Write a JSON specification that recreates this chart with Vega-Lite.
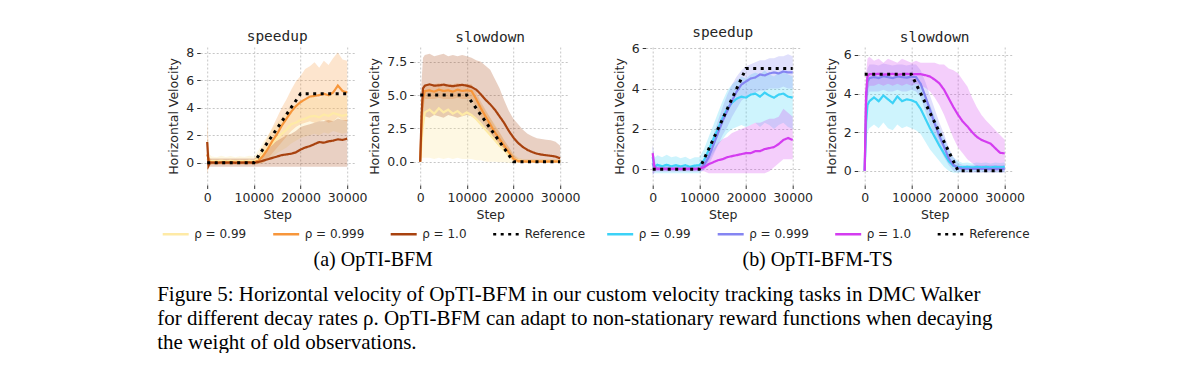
{
"$schema":"https://vega.github.io/schema/vega-lite/v6.json",
"background":"white",
"padding":{"left":157.2,"top":25,"right":0,"bottom":0},
"datasets":{
"d1":[
{"s":"ρ = 0.99","x":0,"m":0.3,"lo":-0.5,"hi":1.8},{"s":"ρ = 0.99","x":500,"m":0.1,"lo":-0.2,"hi":0.6},{"s":"ρ = 0.99","x":1000,"m":0.12,"lo":-0.1,"hi":0.45},{"s":"ρ = 0.99","x":2000,"m":0.1,"lo":-0.12,"hi":0.4},{"s":"ρ = 0.99","x":3000,"m":0.14,"lo":-0.1,"hi":0.5},{"s":"ρ = 0.99","x":4000,"m":0.1,"lo":-0.1,"hi":0.42},{"s":"ρ = 0.99","x":5000,"m":0.13,"lo":-0.1,"hi":0.48},{"s":"ρ = 0.99","x":6000,"m":0.09,"lo":-0.12,"hi":0.4},{"s":"ρ = 0.99","x":7000,"m":0.12,"lo":-0.1,"hi":0.46},{"s":"ρ = 0.99","x":8000,"m":0.1,"lo":-0.1,"hi":0.42},{"s":"ρ = 0.99","x":9000,"m":0.13,"lo":-0.1,"hi":0.5},{"s":"ρ = 0.99","x":10000,"m":0.11,"lo":-0.1,"hi":0.44},{"s":"ρ = 0.99","x":11000,"m":0.3,"lo":-0.1,"hi":0.9},{"s":"ρ = 0.99","x":12000,"m":0.7,"lo":0.0,"hi":1.5},{"s":"ρ = 0.99","x":13000,"m":1.1,"lo":0.2,"hi":2.0},{"s":"ρ = 0.99","x":14000,"m":1.4,"lo":0.4,"hi":2.5},{"s":"ρ = 0.99","x":15000,"m":1.8,"lo":0.7,"hi":2.9},{"s":"ρ = 0.99","x":16000,"m":2.1,"lo":0.9,"hi":3.3},{"s":"ρ = 0.99","x":17000,"m":2.4,"lo":1.1,"hi":3.7},{"s":"ρ = 0.99","x":18000,"m":2.8,"lo":1.4,"hi":4.0},{"s":"ρ = 0.99","x":19000,"m":2.9,"lo":1.6,"hi":4.3},{"s":"ρ = 0.99","x":20000,"m":3.1,"lo":1.8,"hi":4.5},{"s":"ρ = 0.99","x":21000,"m":3.2,"lo":1.9,"hi":4.6},{"s":"ρ = 0.99","x":22000,"m":3.35,"lo":2.0,"hi":4.7},{"s":"ρ = 0.99","x":23000,"m":3.4,"lo":2.1,"hi":4.8},{"s":"ρ = 0.99","x":24000,"m":3.3,"lo":2.0,"hi":4.6},{"s":"ρ = 0.99","x":25000,"m":3.5,"lo":2.2,"hi":4.9},{"s":"ρ = 0.99","x":26000,"m":3.4,"lo":2.1,"hi":4.8},{"s":"ρ = 0.99","x":27000,"m":3.6,"lo":2.3,"hi":5.0},{"s":"ρ = 0.99","x":28000,"m":3.5,"lo":2.2,"hi":4.9},{"s":"ρ = 0.99","x":29000,"m":3.4,"lo":2.1,"hi":4.8},{"s":"ρ = 0.99","x":30000,"m":3.5,"lo":2.2,"hi":4.9},
{"s":"ρ = 0.999","x":0,"m":0.6,"lo":-0.8,"hi":3.0},{"s":"ρ = 0.999","x":500,"m":0.05,"lo":-0.2,"hi":0.35},{"s":"ρ = 0.999","x":1000,"m":0.02,"lo":-0.15,"hi":0.2},{"s":"ρ = 0.999","x":2000,"m":0.03,"lo":-0.15,"hi":0.22},{"s":"ρ = 0.999","x":3000,"m":0.01,"lo":-0.15,"hi":0.2},{"s":"ρ = 0.999","x":4000,"m":0.03,"lo":-0.15,"hi":0.22},{"s":"ρ = 0.999","x":5000,"m":0.02,"lo":-0.15,"hi":0.2},{"s":"ρ = 0.999","x":6000,"m":0.03,"lo":-0.15,"hi":0.22},{"s":"ρ = 0.999","x":7000,"m":0.01,"lo":-0.15,"hi":0.2},{"s":"ρ = 0.999","x":8000,"m":0.03,"lo":-0.15,"hi":0.22},{"s":"ρ = 0.999","x":9000,"m":0.02,"lo":-0.15,"hi":0.2},{"s":"ρ = 0.999","x":10000,"m":0.03,"lo":-0.15,"hi":0.22},{"s":"ρ = 0.999","x":11000,"m":0.15,"lo":-0.1,"hi":0.5},{"s":"ρ = 0.999","x":12000,"m":0.5,"lo":0.0,"hi":1.2},{"s":"ρ = 0.999","x":13000,"m":1.0,"lo":0.3,"hi":1.9},{"s":"ρ = 0.999","x":14000,"m":1.6,"lo":0.7,"hi":2.6},{"s":"ρ = 0.999","x":15000,"m":2.1,"lo":1.1,"hi":3.3},{"s":"ρ = 0.999","x":16000,"m":2.7,"lo":1.5,"hi":4.0},{"s":"ρ = 0.999","x":17000,"m":3.2,"lo":1.9,"hi":4.6},{"s":"ρ = 0.999","x":18000,"m":3.7,"lo":2.3,"hi":5.3},{"s":"ρ = 0.999","x":19000,"m":4.1,"lo":2.6,"hi":5.9},{"s":"ρ = 0.999","x":20000,"m":4.4,"lo":2.8,"hi":6.3},{"s":"ρ = 0.999","x":21000,"m":4.6,"lo":2.9,"hi":6.8},{"s":"ρ = 0.999","x":22000,"m":4.8,"lo":3.0,"hi":7.0},{"s":"ρ = 0.999","x":23000,"m":4.85,"lo":2.9,"hi":7.3},{"s":"ρ = 0.999","x":24000,"m":4.9,"lo":3.0,"hi":6.9},{"s":"ρ = 0.999","x":25000,"m":5.0,"lo":3.1,"hi":7.4},{"s":"ρ = 0.999","x":26000,"m":4.9,"lo":2.9,"hi":7.1},{"s":"ρ = 0.999","x":27000,"m":5.1,"lo":3.0,"hi":7.6},{"s":"ρ = 0.999","x":28000,"m":5.6,"lo":3.3,"hi":8.0},{"s":"ρ = 0.999","x":29000,"m":5.2,"lo":3.1,"hi":7.5},{"s":"ρ = 0.999","x":30000,"m":5.1,"lo":3.0,"hi":7.4},
{"s":"ρ = 1.0","x":0,"m":1.5,"lo":-0.5,"hi":1.7},{"s":"ρ = 1.0","x":300,"m":-0.2,"lo":-0.4,"hi":0.4},{"s":"ρ = 1.0","x":600,"m":0.0,"lo":-0.3,"hi":0.3},{"s":"ρ = 1.0","x":1000,"m":0.01,"lo":-0.3,"hi":0.3},{"s":"ρ = 1.0","x":2000,"m":-0.02,"lo":-0.3,"hi":0.3},{"s":"ρ = 1.0","x":3000,"m":0.02,"lo":-0.3,"hi":0.3},{"s":"ρ = 1.0","x":4000,"m":0.0,"lo":-0.3,"hi":0.3},{"s":"ρ = 1.0","x":5000,"m":0.02,"lo":-0.3,"hi":0.3},{"s":"ρ = 1.0","x":6000,"m":-0.01,"lo":-0.3,"hi":0.3},{"s":"ρ = 1.0","x":7000,"m":0.01,"lo":-0.3,"hi":0.3},{"s":"ρ = 1.0","x":8000,"m":0.0,"lo":-0.3,"hi":0.3},{"s":"ρ = 1.0","x":9000,"m":0.02,"lo":-0.3,"hi":0.3},{"s":"ρ = 1.0","x":10000,"m":0.0,"lo":-0.3,"hi":0.3},{"s":"ρ = 1.0","x":11000,"m":0.05,"lo":-0.3,"hi":0.5},{"s":"ρ = 1.0","x":12000,"m":0.15,"lo":-0.3,"hi":0.8},{"s":"ρ = 1.0","x":13000,"m":0.25,"lo":-0.3,"hi":1.1},{"s":"ρ = 1.0","x":14000,"m":0.35,"lo":-0.3,"hi":1.4},{"s":"ρ = 1.0","x":15000,"m":0.45,"lo":-0.3,"hi":1.6},{"s":"ρ = 1.0","x":16000,"m":0.55,"lo":-0.3,"hi":1.8},{"s":"ρ = 1.0","x":17000,"m":0.6,"lo":-0.3,"hi":2.0},{"s":"ρ = 1.0","x":18000,"m":0.65,"lo":-0.3,"hi":2.1},{"s":"ρ = 1.0","x":19000,"m":0.75,"lo":-0.3,"hi":2.3},{"s":"ρ = 1.0","x":20000,"m":0.95,"lo":-0.3,"hi":2.6},{"s":"ρ = 1.0","x":21000,"m":1.1,"lo":-0.3,"hi":2.7},{"s":"ρ = 1.0","x":22000,"m":1.2,"lo":-0.3,"hi":2.8},{"s":"ρ = 1.0","x":23000,"m":1.35,"lo":-0.3,"hi":2.9},{"s":"ρ = 1.0","x":24000,"m":1.5,"lo":-0.3,"hi":3.0},{"s":"ρ = 1.0","x":25000,"m":1.45,"lo":-0.3,"hi":3.0},{"s":"ρ = 1.0","x":26000,"m":1.55,"lo":-0.3,"hi":3.1},{"s":"ρ = 1.0","x":27000,"m":1.6,"lo":-0.3,"hi":3.0},{"s":"ρ = 1.0","x":28000,"m":1.7,"lo":-0.3,"hi":3.2},{"s":"ρ = 1.0","x":29000,"m":1.65,"lo":-0.3,"hi":3.1},{"s":"ρ = 1.0","x":30000,"m":1.75,"lo":-0.3,"hi":3.1},
{"s":"Reference","x":0,"m":0},{"s":"Reference","x":10000,"m":0},{"s":"Reference","x":20000,"m":5},{"s":"Reference","x":30000,"m":5}
],
"d2":[
{"s":"ρ = 0.99","x":0,"m":0,"lo":0,"hi":0},{"s":"ρ = 0.99","x":500,"m":2.5,"lo":0.3,"hi":4.5},{"s":"ρ = 0.99","x":1000,"m":3.7,"lo":0.3,"hi":5.3},{"s":"ρ = 0.99","x":2000,"m":3.9,"lo":0.3,"hi":5.5},{"s":"ρ = 0.99","x":3000,"m":3.6,"lo":0.2,"hi":5.2},{"s":"ρ = 0.99","x":4000,"m":4.0,"lo":0.3,"hi":5.6},{"s":"ρ = 0.99","x":5000,"m":3.7,"lo":0.2,"hi":5.3},{"s":"ρ = 0.99","x":6000,"m":3.9,"lo":0.3,"hi":5.5},{"s":"ρ = 0.99","x":7000,"m":3.6,"lo":0.2,"hi":5.2},{"s":"ρ = 0.99","x":8000,"m":3.8,"lo":0.3,"hi":5.4},{"s":"ρ = 0.99","x":9000,"m":3.5,"lo":0.2,"hi":5.1},{"s":"ρ = 0.99","x":10000,"m":3.7,"lo":0.2,"hi":5.3},{"s":"ρ = 0.99","x":11000,"m":3.5,"lo":0.2,"hi":5.1},{"s":"ρ = 0.99","x":12000,"m":3.2,"lo":0.1,"hi":4.8},{"s":"ρ = 0.99","x":13000,"m":2.8,"lo":0.1,"hi":4.3},{"s":"ρ = 0.99","x":14000,"m":2.4,"lo":0.0,"hi":3.8},{"s":"ρ = 0.99","x":15000,"m":2.0,"lo":0.0,"hi":3.3},{"s":"ρ = 0.99","x":16000,"m":1.6,"lo":0.0,"hi":2.8},{"s":"ρ = 0.99","x":17000,"m":1.2,"lo":-0.05,"hi":2.2},{"s":"ρ = 0.99","x":18000,"m":0.85,"lo":-0.05,"hi":1.6},{"s":"ρ = 0.99","x":19000,"m":0.5,"lo":-0.1,"hi":1.1},{"s":"ρ = 0.99","x":20000,"m":0.2,"lo":-0.1,"hi":0.6},{"s":"ρ = 0.99","x":21000,"m":0.1,"lo":-0.1,"hi":0.3},{"s":"ρ = 0.99","x":22000,"m":0.05,"lo":-0.1,"hi":0.2},{"s":"ρ = 0.99","x":24000,"m":0.04,"lo":-0.1,"hi":0.2},{"s":"ρ = 0.99","x":26000,"m":0.05,"lo":-0.1,"hi":0.2},{"s":"ρ = 0.99","x":28000,"m":0.04,"lo":-0.1,"hi":0.2},{"s":"ρ = 0.99","x":30000,"m":0.05,"lo":-0.1,"hi":0.2},
{"s":"ρ = 0.999","x":0,"m":0,"lo":0,"hi":0},{"s":"ρ = 0.999","x":500,"m":4.6,"lo":3.5,"hi":5.5},{"s":"ρ = 0.999","x":1000,"m":5.3,"lo":4.7,"hi":5.8},{"s":"ρ = 0.999","x":2000,"m":5.35,"lo":4.7,"hi":5.85},{"s":"ρ = 0.999","x":3000,"m":5.25,"lo":4.7,"hi":5.8},{"s":"ρ = 0.999","x":4000,"m":5.4,"lo":4.8,"hi":5.9},{"s":"ρ = 0.999","x":5000,"m":5.3,"lo":4.7,"hi":5.8},{"s":"ρ = 0.999","x":6000,"m":5.35,"lo":4.7,"hi":5.85},{"s":"ρ = 0.999","x":7000,"m":5.25,"lo":4.7,"hi":5.8},{"s":"ρ = 0.999","x":8000,"m":5.4,"lo":4.8,"hi":5.9},{"s":"ρ = 0.999","x":9000,"m":5.3,"lo":4.7,"hi":5.8},{"s":"ρ = 0.999","x":10000,"m":5.35,"lo":4.7,"hi":5.85},{"s":"ρ = 0.999","x":11000,"m":5.3,"lo":4.7,"hi":5.8},{"s":"ρ = 0.999","x":12000,"m":4.7,"lo":4.1,"hi":5.2},{"s":"ρ = 0.999","x":13000,"m":4.0,"lo":3.4,"hi":4.5},{"s":"ρ = 0.999","x":14000,"m":3.4,"lo":2.8,"hi":3.9},{"s":"ρ = 0.999","x":15000,"m":2.8,"lo":2.2,"hi":3.3},{"s":"ρ = 0.999","x":16000,"m":2.2,"lo":1.7,"hi":2.7},{"s":"ρ = 0.999","x":17000,"m":1.7,"lo":1.2,"hi":2.2},{"s":"ρ = 0.999","x":18000,"m":1.2,"lo":0.8,"hi":1.6},{"s":"ρ = 0.999","x":19000,"m":0.7,"lo":0.3,"hi":1.1},{"s":"ρ = 0.999","x":20000,"m":0.2,"lo":-0.05,"hi":0.5},{"s":"ρ = 0.999","x":21000,"m":0.05,"lo":-0.1,"hi":0.2},{"s":"ρ = 0.999","x":22000,"m":0.02,"lo":-0.1,"hi":0.15},{"s":"ρ = 0.999","x":24000,"m":0.03,"lo":-0.1,"hi":0.15},{"s":"ρ = 0.999","x":26000,"m":0.02,"lo":-0.1,"hi":0.15},{"s":"ρ = 0.999","x":28000,"m":0.03,"lo":-0.1,"hi":0.15},{"s":"ρ = 0.999","x":30000,"m":0.02,"lo":-0.1,"hi":0.15},
{"s":"ρ = 1.0","x":0,"m":0,"lo":0,"hi":0},{"s":"ρ = 1.0","x":300,"m":3.5,"lo":1.5,"hi":6.0},{"s":"ρ = 1.0","x":600,"m":5.5,"lo":3.3,"hi":7.8},{"s":"ρ = 1.0","x":1000,"m":5.7,"lo":3.4,"hi":8.0},{"s":"ρ = 1.0","x":2000,"m":5.8,"lo":3.3,"hi":8.1},{"s":"ρ = 1.0","x":3000,"m":5.7,"lo":3.5,"hi":7.9},{"s":"ρ = 1.0","x":4000,"m":5.72,"lo":3.4,"hi":8.0},{"s":"ρ = 1.0","x":5000,"m":5.78,"lo":3.3,"hi":8.1},{"s":"ρ = 1.0","x":6000,"m":5.7,"lo":3.5,"hi":7.9},{"s":"ρ = 1.0","x":7000,"m":5.66,"lo":3.4,"hi":8.0},{"s":"ρ = 1.0","x":8000,"m":5.72,"lo":3.3,"hi":7.9},{"s":"ρ = 1.0","x":9000,"m":5.76,"lo":3.4,"hi":8.0},{"s":"ρ = 1.0","x":10000,"m":5.7,"lo":3.5,"hi":7.9},{"s":"ρ = 1.0","x":11000,"m":5.6,"lo":3.4,"hi":7.8},{"s":"ρ = 1.0","x":12000,"m":5.4,"lo":3.2,"hi":7.6},{"s":"ρ = 1.0","x":13000,"m":5.05,"lo":2.9,"hi":7.5},{"s":"ρ = 1.0","x":14000,"m":4.65,"lo":2.5,"hi":7.2},{"s":"ρ = 1.0","x":15000,"m":4.3,"lo":2.1,"hi":6.9},{"s":"ρ = 1.0","x":16000,"m":3.9,"lo":1.7,"hi":6.2},{"s":"ρ = 1.0","x":17000,"m":3.4,"lo":1.3,"hi":5.5},{"s":"ρ = 1.0","x":18000,"m":2.9,"lo":0.9,"hi":4.6},{"s":"ρ = 1.0","x":19000,"m":2.3,"lo":0.5,"hi":3.8},{"s":"ρ = 1.0","x":20000,"m":1.8,"lo":0.2,"hi":3.2},{"s":"ρ = 1.0","x":21000,"m":1.4,"lo":0.0,"hi":2.8},{"s":"ρ = 1.0","x":22000,"m":1.1,"lo":-0.1,"hi":2.4},{"s":"ρ = 1.0","x":23000,"m":0.88,"lo":-0.1,"hi":2.1},{"s":"ρ = 1.0","x":24000,"m":0.72,"lo":-0.1,"hi":1.9},{"s":"ρ = 1.0","x":25000,"m":0.6,"lo":-0.1,"hi":1.75},{"s":"ρ = 1.0","x":26000,"m":0.53,"lo":-0.1,"hi":1.7},{"s":"ρ = 1.0","x":27000,"m":0.48,"lo":-0.1,"hi":1.65},{"s":"ρ = 1.0","x":28000,"m":0.44,"lo":-0.1,"hi":1.6},{"s":"ρ = 1.0","x":29000,"m":0.38,"lo":-0.1,"hi":1.5},{"s":"ρ = 1.0","x":30000,"m":0.25,"lo":-0.1,"hi":1.2},
{"s":"Reference","x":0,"m":5},{"s":"Reference","x":10000,"m":5},{"s":"Reference","x":20000,"m":0},{"s":"Reference","x":30000,"m":0}
],
"d3":[
{"s":"ρ = 0.99","x":0,"m":0.6,"lo":-0.3,"hi":1.2},{"s":"ρ = 0.99","x":300,"m":0.2,"lo":-0.2,"hi":0.7},{"s":"ρ = 0.99","x":600,"m":0.15,"lo":-0.2,"hi":0.6},{"s":"ρ = 0.99","x":1000,"m":0.22,"lo":-0.2,"hi":0.7},{"s":"ρ = 0.99","x":2000,"m":0.15,"lo":-0.2,"hi":0.6},{"s":"ρ = 0.99","x":3000,"m":0.22,"lo":-0.2,"hi":0.72},{"s":"ρ = 0.99","x":4000,"m":0.15,"lo":-0.2,"hi":0.6},{"s":"ρ = 0.99","x":5000,"m":0.2,"lo":-0.2,"hi":0.65},{"s":"ρ = 0.99","x":6000,"m":0.14,"lo":-0.2,"hi":0.55},{"s":"ρ = 0.99","x":7000,"m":0.2,"lo":-0.2,"hi":0.62},{"s":"ρ = 0.99","x":8000,"m":0.12,"lo":-0.2,"hi":0.5},{"s":"ρ = 0.99","x":9000,"m":0.18,"lo":-0.2,"hi":0.6},{"s":"ρ = 0.99","x":10000,"m":0.2,"lo":-0.2,"hi":0.6},{"s":"ρ = 0.99","x":11000,"m":0.45,"lo":0.0,"hi":1.0},{"s":"ρ = 0.99","x":12000,"m":0.95,"lo":0.4,"hi":1.6},{"s":"ρ = 0.99","x":13000,"m":1.5,"lo":0.8,"hi":2.2},{"s":"ρ = 0.99","x":14000,"m":2.0,"lo":1.2,"hi":2.8},{"s":"ρ = 0.99","x":15000,"m":2.55,"lo":1.5,"hi":3.4},{"s":"ρ = 0.99","x":16000,"m":3.0,"lo":1.8,"hi":3.9},{"s":"ρ = 0.99","x":17000,"m":3.3,"lo":2.0,"hi":4.2},{"s":"ρ = 0.99","x":18000,"m":3.5,"lo":2.1,"hi":4.4},{"s":"ρ = 0.99","x":19000,"m":3.6,"lo":2.2,"hi":4.6},{"s":"ρ = 0.99","x":20000,"m":3.55,"lo":2.1,"hi":4.5},{"s":"ρ = 0.99","x":21000,"m":3.7,"lo":2.2,"hi":4.7},{"s":"ρ = 0.99","x":22000,"m":3.75,"lo":2.3,"hi":4.8},{"s":"ρ = 0.99","x":23000,"m":3.6,"lo":2.1,"hi":4.7},{"s":"ρ = 0.99","x":24000,"m":3.8,"lo":2.3,"hi":4.9},{"s":"ρ = 0.99","x":25000,"m":3.65,"lo":2.2,"hi":4.7},{"s":"ρ = 0.99","x":26000,"m":3.55,"lo":2.0,"hi":4.6},{"s":"ρ = 0.99","x":27000,"m":3.7,"lo":2.2,"hi":4.8},{"s":"ρ = 0.99","x":28000,"m":3.75,"lo":2.3,"hi":4.9},{"s":"ρ = 0.99","x":29000,"m":3.6,"lo":2.1,"hi":4.7},{"s":"ρ = 0.99","x":30000,"m":3.55,"lo":2.0,"hi":4.6},
{"s":"ρ = 0.999","x":0,"m":0.3,"lo":-0.2,"hi":0.8},{"s":"ρ = 0.999","x":300,"m":0.05,"lo":-0.1,"hi":0.25},{"s":"ρ = 0.999","x":600,"m":0.03,"lo":-0.1,"hi":0.15},{"s":"ρ = 0.999","x":1000,"m":0.04,"lo":-0.1,"hi":0.16},{"s":"ρ = 0.999","x":2000,"m":0.02,"lo":-0.1,"hi":0.14},{"s":"ρ = 0.999","x":3000,"m":0.04,"lo":-0.1,"hi":0.16},{"s":"ρ = 0.999","x":4000,"m":0.03,"lo":-0.1,"hi":0.15},{"s":"ρ = 0.999","x":5000,"m":0.02,"lo":-0.1,"hi":0.14},{"s":"ρ = 0.999","x":6000,"m":0.04,"lo":-0.1,"hi":0.16},{"s":"ρ = 0.999","x":7000,"m":0.03,"lo":-0.1,"hi":0.15},{"s":"ρ = 0.999","x":8000,"m":0.02,"lo":-0.1,"hi":0.14},{"s":"ρ = 0.999","x":9000,"m":0.04,"lo":-0.1,"hi":0.16},{"s":"ρ = 0.999","x":10000,"m":0.03,"lo":-0.1,"hi":0.15},{"s":"ρ = 0.999","x":11000,"m":0.2,"lo":-0.05,"hi":0.5},{"s":"ρ = 0.999","x":12000,"m":0.6,"lo":0.2,"hi":1.0},{"s":"ρ = 0.999","x":13000,"m":1.2,"lo":0.7,"hi":1.7},{"s":"ρ = 0.999","x":14000,"m":1.8,"lo":1.2,"hi":2.4},{"s":"ρ = 0.999","x":15000,"m":2.4,"lo":1.7,"hi":3.1},{"s":"ρ = 0.999","x":16000,"m":2.9,"lo":2.1,"hi":3.7},{"s":"ρ = 0.999","x":17000,"m":3.4,"lo":2.6,"hi":4.2},{"s":"ρ = 0.999","x":18000,"m":3.85,"lo":3.0,"hi":4.6},{"s":"ρ = 0.999","x":19000,"m":4.2,"lo":3.4,"hi":4.9},{"s":"ρ = 0.999","x":20000,"m":4.35,"lo":3.6,"hi":5.1},{"s":"ρ = 0.999","x":21000,"m":4.5,"lo":3.7,"hi":5.2},{"s":"ρ = 0.999","x":22000,"m":4.55,"lo":3.8,"hi":5.3},{"s":"ρ = 0.999","x":23000,"m":4.7,"lo":3.9,"hi":5.4},{"s":"ρ = 0.999","x":24000,"m":4.65,"lo":3.9,"hi":5.4},{"s":"ρ = 0.999","x":25000,"m":4.75,"lo":4.0,"hi":5.5},{"s":"ρ = 0.999","x":26000,"m":4.8,"lo":4.0,"hi":5.5},{"s":"ρ = 0.999","x":27000,"m":4.75,"lo":4.0,"hi":5.6},{"s":"ρ = 0.999","x":28000,"m":4.85,"lo":4.1,"hi":5.6},{"s":"ρ = 0.999","x":29000,"m":4.8,"lo":4.0,"hi":5.7},{"s":"ρ = 0.999","x":30000,"m":4.8,"lo":4.0,"hi":5.6},
{"s":"ρ = 1.0","x":0,"m":0.8,"lo":-0.3,"hi":1.2},{"s":"ρ = 1.0","x":300,"m":0.2,"lo":-0.2,"hi":0.6},{"s":"ρ = 1.0","x":600,"m":0.05,"lo":-0.1,"hi":0.3},{"s":"ρ = 1.0","x":1000,"m":0.02,"lo":-0.1,"hi":0.15},{"s":"ρ = 1.0","x":2000,"m":0.03,"lo":-0.1,"hi":0.16},{"s":"ρ = 1.0","x":3000,"m":0.01,"lo":-0.1,"hi":0.14},{"s":"ρ = 1.0","x":4000,"m":0.02,"lo":-0.1,"hi":0.15},{"s":"ρ = 1.0","x":5000,"m":0.03,"lo":-0.1,"hi":0.16},{"s":"ρ = 1.0","x":6000,"m":0.01,"lo":-0.1,"hi":0.14},{"s":"ρ = 1.0","x":7000,"m":0.02,"lo":-0.1,"hi":0.15},{"s":"ρ = 1.0","x":8000,"m":0.03,"lo":-0.1,"hi":0.16},{"s":"ρ = 1.0","x":9000,"m":0.01,"lo":-0.1,"hi":0.14},{"s":"ρ = 1.0","x":10000,"m":0.02,"lo":-0.1,"hi":0.15},{"s":"ρ = 1.0","x":11000,"m":0.1,"lo":-0.1,"hi":0.5},{"s":"ρ = 1.0","x":12000,"m":0.25,"lo":-0.2,"hi":0.8},{"s":"ρ = 1.0","x":13000,"m":0.35,"lo":-0.2,"hi":1.0},{"s":"ρ = 1.0","x":14000,"m":0.45,"lo":-0.2,"hi":1.3},{"s":"ρ = 1.0","x":15000,"m":0.5,"lo":-0.2,"hi":1.5},{"s":"ρ = 1.0","x":16000,"m":0.6,"lo":-0.2,"hi":1.6},{"s":"ρ = 1.0","x":17000,"m":0.65,"lo":-0.2,"hi":1.8},{"s":"ρ = 1.0","x":18000,"m":0.7,"lo":-0.2,"hi":1.9},{"s":"ρ = 1.0","x":19000,"m":0.75,"lo":-0.2,"hi":2.0},{"s":"ρ = 1.0","x":20000,"m":0.8,"lo":-0.2,"hi":2.1},{"s":"ρ = 1.0","x":21000,"m":0.8,"lo":-0.2,"hi":2.2},{"s":"ρ = 1.0","x":22000,"m":0.9,"lo":-0.2,"hi":2.3},{"s":"ρ = 1.0","x":23000,"m":0.9,"lo":-0.2,"hi":2.3},{"s":"ρ = 1.0","x":24000,"m":1.0,"lo":-0.2,"hi":2.4},{"s":"ρ = 1.0","x":25000,"m":1.05,"lo":-0.1,"hi":2.5},{"s":"ρ = 1.0","x":26000,"m":1.1,"lo":0.1,"hi":2.5},{"s":"ρ = 1.0","x":27000,"m":1.25,"lo":0.3,"hi":2.6},{"s":"ρ = 1.0","x":28000,"m":1.45,"lo":0.5,"hi":3.0},{"s":"ρ = 1.0","x":29000,"m":1.55,"lo":0.5,"hi":2.8},{"s":"ρ = 1.0","x":30000,"m":1.45,"lo":0.5,"hi":2.6},
{"s":"Reference","x":0,"m":0},{"s":"Reference","x":10000,"m":0},{"s":"Reference","x":20000,"m":5},{"s":"Reference","x":30000,"m":5}
],
"d4":[
{"s":"ρ = 0.99","x":0,"m":0,"lo":0,"hi":0},{"s":"ρ = 0.99","x":300,"m":2.5,"lo":1.2,"hi":3.5},{"s":"ρ = 0.99","x":600,"m":3.4,"lo":2.0,"hi":4.5},{"s":"ρ = 0.99","x":1000,"m":3.6,"lo":2.2,"hi":4.8},{"s":"ρ = 0.99","x":2000,"m":3.8,"lo":2.4,"hi":5.0},{"s":"ρ = 0.99","x":3000,"m":3.6,"lo":2.2,"hi":4.9},{"s":"ρ = 0.99","x":4000,"m":3.9,"lo":2.5,"hi":5.1},{"s":"ρ = 0.99","x":5000,"m":3.7,"lo":2.2,"hi":4.9},{"s":"ρ = 0.99","x":6000,"m":3.5,"lo":2.1,"hi":4.8},{"s":"ρ = 0.99","x":7000,"m":3.85,"lo":2.4,"hi":5.0},{"s":"ρ = 0.99","x":8000,"m":3.6,"lo":2.2,"hi":4.9},{"s":"ρ = 0.99","x":9000,"m":3.7,"lo":2.3,"hi":5.0},{"s":"ρ = 0.99","x":10000,"m":3.65,"lo":2.2,"hi":4.8},{"s":"ρ = 0.99","x":11000,"m":3.55,"lo":2.1,"hi":4.7},{"s":"ρ = 0.99","x":12000,"m":3.2,"lo":1.9,"hi":4.4},{"s":"ρ = 0.99","x":13000,"m":2.7,"lo":1.5,"hi":3.9},{"s":"ρ = 0.99","x":14000,"m":2.2,"lo":1.1,"hi":3.4},{"s":"ρ = 0.99","x":15000,"m":1.75,"lo":0.8,"hi":2.8},{"s":"ρ = 0.99","x":16000,"m":1.3,"lo":0.5,"hi":2.2},{"s":"ρ = 0.99","x":17000,"m":0.9,"lo":0.2,"hi":1.7},{"s":"ρ = 0.99","x":18000,"m":0.5,"lo":0.0,"hi":1.1},{"s":"ρ = 0.99","x":19000,"m":0.25,"lo":-0.1,"hi":0.7},{"s":"ρ = 0.99","x":20000,"m":0.2,"lo":-0.1,"hi":0.5},{"s":"ρ = 0.99","x":21000,"m":0.18,"lo":-0.05,"hi":0.4},{"s":"ρ = 0.99","x":22000,"m":0.2,"lo":-0.05,"hi":0.42},{"s":"ρ = 0.99","x":23000,"m":0.17,"lo":-0.05,"hi":0.38},{"s":"ρ = 0.99","x":24000,"m":0.2,"lo":-0.05,"hi":0.42},{"s":"ρ = 0.99","x":25000,"m":0.18,"lo":-0.05,"hi":0.4},{"s":"ρ = 0.99","x":26000,"m":0.2,"lo":-0.05,"hi":0.42},{"s":"ρ = 0.99","x":27000,"m":0.17,"lo":-0.05,"hi":0.38},{"s":"ρ = 0.99","x":28000,"m":0.2,"lo":-0.05,"hi":0.42},{"s":"ρ = 0.99","x":29000,"m":0.18,"lo":-0.05,"hi":0.4},{"s":"ρ = 0.99","x":30000,"m":0.2,"lo":-0.05,"hi":0.42},
{"s":"ρ = 0.999","x":0,"m":0,"lo":0,"hi":0},{"s":"ρ = 0.999","x":300,"m":3.5,"lo":2.5,"hi":4.5},{"s":"ρ = 0.999","x":600,"m":4.6,"lo":3.8,"hi":5.3},{"s":"ρ = 0.999","x":1000,"m":4.8,"lo":4.1,"hi":5.5},{"s":"ρ = 0.999","x":2000,"m":4.85,"lo":4.1,"hi":5.5},{"s":"ρ = 0.999","x":3000,"m":4.8,"lo":4.1,"hi":5.45},{"s":"ρ = 0.999","x":4000,"m":4.9,"lo":4.2,"hi":5.55},{"s":"ρ = 0.999","x":5000,"m":4.85,"lo":4.1,"hi":5.5},{"s":"ρ = 0.999","x":6000,"m":4.8,"lo":4.1,"hi":5.45},{"s":"ρ = 0.999","x":7000,"m":4.88,"lo":4.2,"hi":5.5},{"s":"ρ = 0.999","x":8000,"m":4.85,"lo":4.1,"hi":5.5},{"s":"ρ = 0.999","x":9000,"m":4.82,"lo":4.1,"hi":5.45},{"s":"ρ = 0.999","x":10000,"m":4.87,"lo":4.2,"hi":5.5},{"s":"ρ = 0.999","x":11000,"m":4.85,"lo":4.1,"hi":5.5},{"s":"ρ = 0.999","x":12000,"m":4.5,"lo":3.8,"hi":5.2},{"s":"ρ = 0.999","x":13000,"m":3.85,"lo":3.1,"hi":4.6},{"s":"ρ = 0.999","x":14000,"m":3.15,"lo":2.4,"hi":3.9},{"s":"ρ = 0.999","x":15000,"m":2.45,"lo":1.8,"hi":3.2},{"s":"ρ = 0.999","x":16000,"m":1.8,"lo":1.2,"hi":2.5},{"s":"ρ = 0.999","x":17000,"m":1.25,"lo":0.7,"hi":1.9},{"s":"ρ = 0.999","x":18000,"m":0.65,"lo":0.3,"hi":1.2},{"s":"ρ = 0.999","x":19000,"m":0.3,"lo":0.0,"hi":0.7},{"s":"ρ = 0.999","x":20000,"m":0.15,"lo":-0.05,"hi":0.4},{"s":"ρ = 0.999","x":21000,"m":0.1,"lo":-0.1,"hi":0.3},{"s":"ρ = 0.999","x":22000,"m":0.1,"lo":-0.1,"hi":0.3},{"s":"ρ = 0.999","x":24000,"m":0.1,"lo":-0.1,"hi":0.3},{"s":"ρ = 0.999","x":26000,"m":0.1,"lo":-0.1,"hi":0.3},{"s":"ρ = 0.999","x":28000,"m":0.1,"lo":-0.1,"hi":0.3},{"s":"ρ = 0.999","x":30000,"m":0.1,"lo":-0.1,"hi":0.3},
{"s":"ρ = 1.0","x":0,"m":0,"lo":0,"hi":0},{"s":"ρ = 1.0","x":300,"m":4.0,"lo":3.0,"hi":5.0},{"s":"ρ = 1.0","x":600,"m":4.9,"lo":4.2,"hi":5.8},{"s":"ρ = 1.0","x":1000,"m":5.0,"lo":4.4,"hi":5.9},{"s":"ρ = 1.0","x":2000,"m":5.0,"lo":4.4,"hi":5.7},{"s":"ρ = 1.0","x":3000,"m":5.02,"lo":4.5,"hi":5.8},{"s":"ρ = 1.0","x":4000,"m":4.98,"lo":4.4,"hi":5.6},{"s":"ρ = 1.0","x":5000,"m":5.0,"lo":4.5,"hi":5.8},{"s":"ρ = 1.0","x":6000,"m":5.02,"lo":4.4,"hi":5.7},{"s":"ρ = 1.0","x":7000,"m":4.98,"lo":4.5,"hi":5.6},{"s":"ρ = 1.0","x":8000,"m":5.0,"lo":4.4,"hi":5.8},{"s":"ρ = 1.0","x":9000,"m":5.02,"lo":4.5,"hi":5.7},{"s":"ρ = 1.0","x":10000,"m":5.0,"lo":4.4,"hi":5.6},{"s":"ρ = 1.0","x":11000,"m":5.0,"lo":4.5,"hi":5.7},{"s":"ρ = 1.0","x":12000,"m":5.0,"lo":4.4,"hi":5.6},{"s":"ρ = 1.0","x":13000,"m":4.95,"lo":4.3,"hi":5.6},{"s":"ρ = 1.0","x":14000,"m":4.88,"lo":4.1,"hi":5.6},{"s":"ρ = 1.0","x":15000,"m":4.72,"lo":3.8,"hi":5.6},{"s":"ρ = 1.0","x":16000,"m":4.53,"lo":3.4,"hi":5.5},{"s":"ρ = 1.0","x":17000,"m":4.2,"lo":2.9,"hi":5.5},{"s":"ρ = 1.0","x":18000,"m":3.75,"lo":2.3,"hi":5.3},{"s":"ρ = 1.0","x":19000,"m":3.3,"lo":1.7,"hi":5.2},{"s":"ρ = 1.0","x":20000,"m":2.9,"lo":1.2,"hi":5.05},{"s":"ρ = 1.0","x":21000,"m":2.55,"lo":0.9,"hi":4.7},{"s":"ρ = 1.0","x":22000,"m":2.3,"lo":0.6,"hi":4.36},{"s":"ρ = 1.0","x":23000,"m":2.0,"lo":0.4,"hi":3.8},{"s":"ρ = 1.0","x":24000,"m":1.76,"lo":0.2,"hi":3.3},{"s":"ρ = 1.0","x":25000,"m":1.6,"lo":0.1,"hi":2.9},{"s":"ρ = 1.0","x":26000,"m":1.5,"lo":0.0,"hi":2.6},{"s":"ρ = 1.0","x":27000,"m":1.4,"lo":0.0,"hi":2.35},{"s":"ρ = 1.0","x":28000,"m":1.16,"lo":0.0,"hi":2.1},{"s":"ρ = 1.0","x":29000,"m":0.93,"lo":0.0,"hi":1.85},{"s":"ρ = 1.0","x":30000,"m":0.9,"lo":0.0,"hi":1.6},
{"s":"Reference","x":0,"m":5},{"s":"Reference","x":10000,"m":5},{"s":"Reference","x":20000,"m":0},{"s":"Reference","x":30000,"m":0}
]
},
"title":{"text":["Figure 5: Horizontal velocity of OpTI-BFM in our custom velocity tracking tasks in DMC Walker","for different decay rates ρ. OpTI-BFM can adapt to non-stationary reward functions when decaying","the weight of old observations."],"orient":"bottom","anchor":"start","frame":"bounds","font":"Liberation Serif","fontSize":21,"fontWeight":"normal","color":"black","lineHeight":24,"offset":13.5,"dx":-4},
"spacing":20.5,
"resolve":{"scale":{"color":"independent","fill":"independent","strokeDash":"independent"}},
"hconcat":[
{"spacing":1,
 "title":{"text":"(a) OpTI-BFM","orient":"bottom","anchor":"middle","frame":"bounds","font":"Liberation Serif","fontSize":20,"fontWeight":"normal","color":"black","offset":10},
 "hconcat":[
 {"width":154,"height":138,"title":{"text":"speedup"},"data":{"name":"d1"},
  "encoding":{"x":{"field":"x","type":"quantitative","scale":{"domain":[-1500,31500],"nice":false,"zero":false},"axis":{"values":[0,10000,20000,30000],"format":"d","title":"Step"}}},
  "layer":[
   {"transform":[{"filter":"datum.s != 'Reference'"}],"mark":{"type":"area","opacity":0.25},
    "encoding":{"y":{"field":"lo","type":"quantitative","scale":{"domain":[-1.62,8.4],"nice":false,"zero":false},"axis":{"values":[0,2,4,6,8],"title":"Horizontal Velocity"}},"y2":{"field":"hi"},
     "fill":{"field":"s","type":"nominal","scale":{"domain":["ρ = 0.99","ρ = 0.999","ρ = 1.0"],"range":["#fde28f","#f7963b","#a8420f"]},"legend":null}}},
   {"transform":[{"filter":"datum.s != 'Reference'"}],"mark":{"type":"line","strokeWidth":2.2},
    "encoding":{"y":{"field":"m","type":"quantitative","axis":{"values":[0,2,4,6,8],"title":"Horizontal Velocity"}},
     "color":{"field":"s","type":"nominal","scale":{"domain":["ρ = 0.99","ρ = 0.999","ρ = 1.0","Reference"],"range":["#feeaa6","#f7963b","#a8420f","#000000"]},"legend":{"orient":"none","legendX":-39,"legendY":172.5,"direction":"horizontal","title":null}},
     "strokeDash":{"field":"s","type":"nominal","scale":{"domain":["ρ = 0.99","ρ = 0.999","ρ = 1.0","Reference"],"range":[[1,0],[1,0],[1,0],[3,4.5]]},"legend":{"orient":"none","legendX":-39,"legendY":172.5,"direction":"horizontal","title":null}}}},
   {"transform":[{"filter":"datum.s == 'Reference'"}],"mark":{"type":"line","strokeWidth":3},
    "encoding":{"y":{"field":"m","type":"quantitative","axis":{"values":[0,2,4,6,8],"title":"Horizontal Velocity"}},
     "color":{"field":"s","type":"nominal","scale":{"domain":["ρ = 0.99","ρ = 0.999","ρ = 1.0","Reference"],"range":["#feeaa6","#f7963b","#a8420f","#000000"]},"legend":{"orient":"none","legendX":-39,"legendY":172.5,"direction":"horizontal","title":null}},
     "strokeDash":{"field":"s","type":"nominal","scale":{"domain":["ρ = 0.99","ρ = 0.999","ρ = 1.0","Reference"],"range":[[1,0],[1,0],[1,0],[3,4.5]]},"legend":{"orient":"none","legendX":-39,"legendY":172.5,"direction":"horizontal","title":null}}}}
  ]},
 {"width":154,"height":138,"title":{"text":"slowdown"},"data":{"name":"d2"},
  "encoding":{"x":{"field":"x","type":"quantitative","scale":{"domain":[-1500,31500],"nice":false,"zero":false},"axis":{"values":[0,10000,20000,30000],"format":"d","title":"Step"}}},
  "layer":[
   {"transform":[{"filter":"datum.s != 'Reference'"}],"mark":{"type":"area","opacity":0.25},
    "encoding":{"y":{"field":"lo","type":"quantitative","scale":{"domain":[-1.75,8.6],"nice":false,"zero":false},"axis":{"values":[0,2.5,5,7.5],"format":".1f","title":"Horizontal Velocity"}},"y2":{"field":"hi"},
     "fill":{"field":"s","type":"nominal","scale":{"domain":["ρ = 0.99","ρ = 0.999","ρ = 1.0"],"range":["#fde28f","#f7963b","#a8420f"]},"legend":null}}},
   {"transform":[{"filter":"datum.s != 'Reference'"}],"mark":{"type":"line","strokeWidth":2.2},
    "encoding":{"y":{"field":"m","type":"quantitative","axis":{"values":[0,2.5,5,7.5],"format":".1f","title":"Horizontal Velocity"}},
     "color":{"field":"s","type":"nominal","scale":{"domain":["ρ = 0.99","ρ = 0.999","ρ = 1.0","Reference"],"range":["#feeaa6","#f7963b","#a8420f","#000000"]},"legend":{"orient":"none","legendX":-39,"legendY":172.5,"direction":"horizontal","title":null}},
     "strokeDash":{"field":"s","type":"nominal","scale":{"domain":["ρ = 0.99","ρ = 0.999","ρ = 1.0","Reference"],"range":[[1,0],[1,0],[1,0],[3,4.5]]},"legend":{"orient":"none","legendX":-39,"legendY":172.5,"direction":"horizontal","title":null}}}},
   {"transform":[{"filter":"datum.s == 'Reference'"}],"mark":{"type":"line","strokeWidth":3},
    "encoding":{"y":{"field":"m","type":"quantitative","axis":{"values":[0,2.5,5,7.5],"format":".1f","title":"Horizontal Velocity"}},
     "color":{"field":"s","type":"nominal","scale":{"domain":["ρ = 0.99","ρ = 0.999","ρ = 1.0","Reference"],"range":["#feeaa6","#f7963b","#a8420f","#000000"]},"legend":{"orient":"none","legendX":-39,"legendY":172.5,"direction":"horizontal","title":null}},
     "strokeDash":{"field":"s","type":"nominal","scale":{"domain":["ρ = 0.99","ρ = 0.999","ρ = 1.0","Reference"],"range":[[1,0],[1,0],[1,0],[3,4.5]]},"legend":{"orient":"none","legendX":-39,"legendY":172.5,"direction":"horizontal","title":null}}}}
  ]}
 ]},
{"spacing":12,
 "title":{"text":"(b) OpTI-BFM-TS","orient":"bottom","anchor":"middle","frame":"bounds","font":"Liberation Serif","fontSize":20,"fontWeight":"normal","color":"black","offset":10},
 "hconcat":[
 {"width":154,"height":138,"title":{"text":"speedup"},"data":{"name":"d3"},
  "encoding":{"x":{"field":"x","type":"quantitative","scale":{"domain":[-1500,31500],"nice":false,"zero":false},"axis":{"values":[0,10000,20000,30000],"format":"d","title":"Step"}}},
  "layer":[
   {"transform":[{"filter":"datum.s != 'Reference'"}],"mark":{"type":"area","opacity":0.25},
    "encoding":{"y":{"field":"lo","type":"quantitative","scale":{"domain":[-0.78,6.06],"nice":false,"zero":false},"axis":{"values":[0,2,4,6],"title":"Horizontal Velocity"}},"y2":{"field":"hi"},
     "fill":{"field":"s","type":"nominal","scale":{"domain":["ρ = 0.99","ρ = 0.999","ρ = 1.0"],"range":["#3cd2f7","#8585f2","#d43cf0"]},"legend":null}}},
   {"transform":[{"filter":"datum.s != 'Reference'"}],"mark":{"type":"line","strokeWidth":2.2},
    "encoding":{"y":{"field":"m","type":"quantitative","axis":{"values":[0,2,4,6],"title":"Horizontal Velocity"}},
     "color":{"field":"s","type":"nominal","scale":{"domain":["ρ = 0.99","ρ = 0.999","ρ = 1.0","Reference"],"range":["#3cd2f7","#8585f2","#d43cf0","#000000"]},"legend":{"orient":"none","legendX":-40,"legendY":172.5,"direction":"horizontal","title":null}},
     "strokeDash":{"field":"s","type":"nominal","scale":{"domain":["ρ = 0.99","ρ = 0.999","ρ = 1.0","Reference"],"range":[[1,0],[1,0],[1,0],[3,4.5]]},"legend":{"orient":"none","legendX":-40,"legendY":172.5,"direction":"horizontal","title":null}}}},
   {"transform":[{"filter":"datum.s == 'Reference'"}],"mark":{"type":"line","strokeWidth":3},
    "encoding":{"y":{"field":"m","type":"quantitative","axis":{"values":[0,2,4,6],"title":"Horizontal Velocity"}},
     "color":{"field":"s","type":"nominal","scale":{"domain":["ρ = 0.99","ρ = 0.999","ρ = 1.0","Reference"],"range":["#3cd2f7","#8585f2","#d43cf0","#000000"]},"legend":{"orient":"none","legendX":-40,"legendY":172.5,"direction":"horizontal","title":null}},
     "strokeDash":{"field":"s","type":"nominal","scale":{"domain":["ρ = 0.99","ρ = 0.999","ρ = 1.0","Reference"],"range":[[1,0],[1,0],[1,0],[3,4.5]]},"legend":{"orient":"none","legendX":-40,"legendY":172.5,"direction":"horizontal","title":null}}}}
  ]},
 {"width":154,"height":138,"title":{"text":"slowdown"},"data":{"name":"d4"},
  "encoding":{"x":{"field":"x","type":"quantitative","scale":{"domain":[-1500,31500],"nice":false,"zero":false},"axis":{"values":[0,10000,20000,30000],"format":"d","title":"Step"}}},
  "layer":[
   {"transform":[{"filter":"datum.s != 'Reference'"}],"mark":{"type":"area","opacity":0.25},
    "encoding":{"y":{"field":"lo","type":"quantitative","scale":{"domain":[-0.74,6.41],"nice":false,"zero":false},"axis":{"values":[0,2,4,6],"title":"Horizontal Velocity"}},"y2":{"field":"hi"},
     "fill":{"field":"s","type":"nominal","scale":{"domain":["ρ = 0.99","ρ = 0.999","ρ = 1.0"],"range":["#3cd2f7","#8585f2","#d43cf0"]},"legend":null}}},
   {"transform":[{"filter":"datum.s != 'Reference'"}],"mark":{"type":"line","strokeWidth":2.2},
    "encoding":{"y":{"field":"m","type":"quantitative","axis":{"values":[0,2,4,6],"title":"Horizontal Velocity"}},
     "color":{"field":"s","type":"nominal","scale":{"domain":["ρ = 0.99","ρ = 0.999","ρ = 1.0","Reference"],"range":["#3cd2f7","#8585f2","#d43cf0","#000000"]},"legend":{"orient":"none","legendX":-40,"legendY":172.5,"direction":"horizontal","title":null}},
     "strokeDash":{"field":"s","type":"nominal","scale":{"domain":["ρ = 0.99","ρ = 0.999","ρ = 1.0","Reference"],"range":[[1,0],[1,0],[1,0],[3,4.5]]},"legend":{"orient":"none","legendX":-40,"legendY":172.5,"direction":"horizontal","title":null}}}},
   {"transform":[{"filter":"datum.s == 'Reference'"}],"mark":{"type":"line","strokeWidth":3},
    "encoding":{"y":{"field":"m","type":"quantitative","axis":{"values":[0,2,4,6],"title":"Horizontal Velocity"}},
     "color":{"field":"s","type":"nominal","scale":{"domain":["ρ = 0.99","ρ = 0.999","ρ = 1.0","Reference"],"range":["#3cd2f7","#8585f2","#d43cf0","#000000"]},"legend":{"orient":"none","legendX":-40,"legendY":172.5,"direction":"horizontal","title":null}},
     "strokeDash":{"field":"s","type":"nominal","scale":{"domain":["ρ = 0.99","ρ = 0.999","ρ = 1.0","Reference"],"range":[[1,0],[1,0],[1,0],[3,4.5]]},"legend":{"orient":"none","legendX":-40,"legendY":172.5,"direction":"horizontal","title":null}}}}
  ]}
 ]}
],
"config":{
 "view":{"stroke":null},
 "font":"DejaVu Sans",
 "axis":{"domain":false,"grid":true,"gridColor":"#b8b8b8","gridDash":[2,2],"gridWidth":0.8,"tickColor":"#333333","tickSize":3.5,"tickWidth":1,"labelFont":"DejaVu Sans","labelFontSize":12.5,"labelColor":"#262626","labelPadding":3,"titleFont":"DejaVu Sans","titleFontSize":12.5,"titleFontWeight":"normal","titleColor":"#262626","titlePadding":5},
 "title":{"font":"DejaVu Sans Mono","fontSize":14.5,"fontWeight":"normal","color":"#262626","offset":1.6},
 "legend":{"symbolType":"stroke","symbolSize":676,"symbolStrokeWidth":2.4,"labelFont":"DejaVu Sans","labelFontSize":12,"labelColor":"#262626","labelOffset":4,"columnPadding":20.5,"padding":0}
}
}
